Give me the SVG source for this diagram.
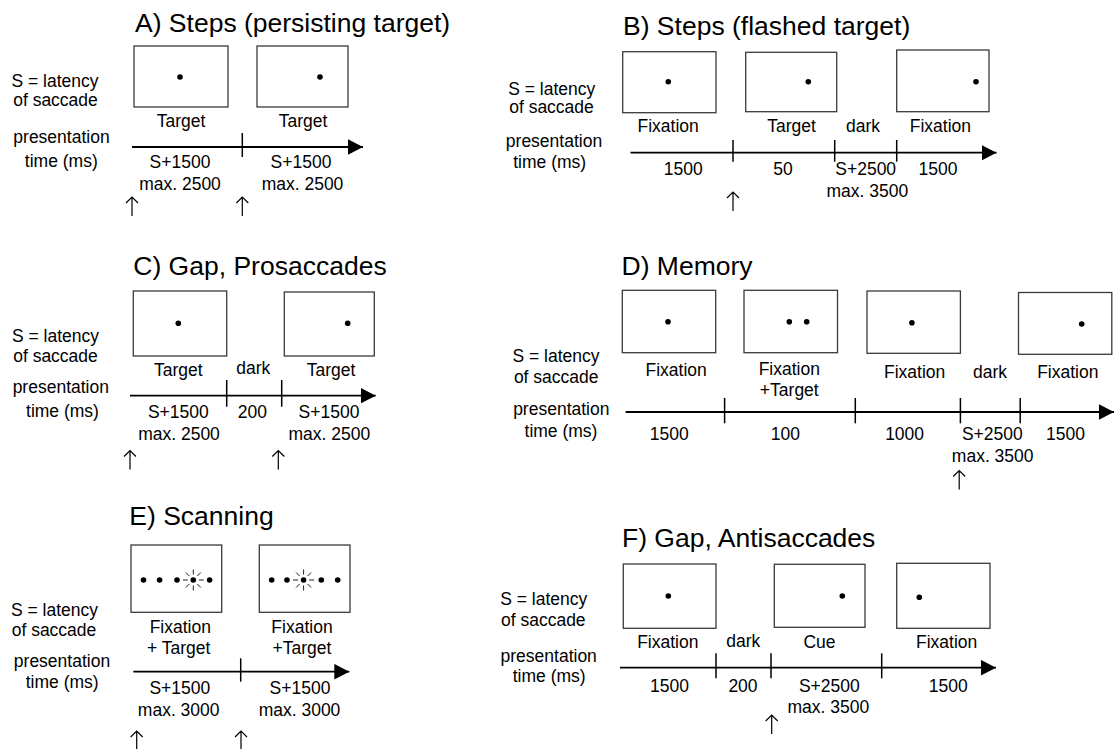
<svg xmlns="http://www.w3.org/2000/svg" width="1114" height="749" viewBox="0 0 1114 749">
<style>
.box{fill:#fff;stroke:#3a3a3a;stroke-width:1.3}
.dot{fill:#000}
text{font-family:"Liberation Sans",Arial,sans-serif;fill:#000}
.t{font-size:17.5px;text-anchor:middle}
.title{font-size:26.5px}
.axis{stroke:#000;stroke-width:1.8;fill:none}
.tick{stroke:#000;stroke-width:1.5}
.up{stroke:#000;stroke-width:1.2;fill:none}
.ray{stroke:#222;stroke-width:1}
</style>
<defs>
<marker id="ah" markerUnits="userSpaceOnUse" markerWidth="16" markerHeight="16" refX="15" refY="7.8" orient="auto">
<path d="M0,0 L15,7.8 L0,15.6 z" fill="#000"/>
</marker>
<path id="upa" class="up" d="M0,0 V19 M-6,6 L0,0 L6,6"/>
<g id="star">
<circle r="2.8" class="dot"/>
<g class="ray">
<line x1="5.5" y1="0" x2="10.5" y2="0"/>
<line x1="-5.5" y1="0" x2="-10.5" y2="0"/>
<line x1="0" y1="5.5" x2="0" y2="10.5"/>
<line x1="0" y1="-5.5" x2="0" y2="-10.5"/>
<line x1="4" y1="4" x2="7.5" y2="7.5"/>
<line x1="-4" y1="4" x2="-7.5" y2="7.5"/>
<line x1="4" y1="-4" x2="7.5" y2="-7.5"/>
<line x1="-4" y1="-4" x2="-7.5" y2="-7.5"/>
</g>
</g>
</defs>
<rect width="1114" height="749" fill="#fff"/>

<!-- Panel A -->
<g id="panelA">
<text class="title" x="135" y="32">A) Steps (persisting target)</text>
<g class="t">
<text x="55" y="87">S = latency</text>
<text x="55.5" y="106">of saccade</text>
<text x="61.5" y="143">presentation</text>
<text x="61.3" y="167">time (ms)</text>
</g>
<g id="A1"><rect class="box" x="134" y="46" width="94" height="61"/><circle class="dot" cx="180" cy="77" r="2.8"/><text class="t" x="181" y="127">Target</text></g>
<g id="A2"><rect class="box" x="257" y="46" width="91" height="61"/><circle class="dot" cx="320" cy="77" r="2.8"/><text class="t" x="303" y="127">Target</text></g>
<g class="t">
<text x="180" y="168">S+1500</text><text x="180" y="190">max. 2500</text>
<text x="301" y="168">S+1500</text><text x="302.5" y="190">max. 2500</text>
</g>
</g>

<!-- Panel B -->
<g id="panelB">
<text class="title" x="623" y="35">B) Steps (flashed target)</text>
<g class="t">
<text x="551.8" y="95">S = latency</text>
<text x="551.5" y="113.3">of saccade</text>
<text x="554" y="146.7">presentation</text>
<text x="549.7" y="168.3">time (ms)</text>
</g>
<g id="B1"><rect class="box" x="622.7" y="51.7" width="93.3" height="61"/><circle class="dot" cx="668.3" cy="81.7" r="2.8"/><text class="t" x="668.2" y="131.7">Fixation</text></g>
<g id="B2"><rect class="box" x="745.7" y="52.3" width="91" height="59.4"/><circle class="dot" cx="808.3" cy="81.7" r="2.8"/><text class="t" x="791.6" y="131.7">Target</text></g>
<text class="t" x="863" y="131.7">dark</text>
<g id="B3"><rect class="box" x="896.7" y="50" width="92.3" height="61.7"/><circle class="dot" cx="976" cy="81.7" r="2.8"/><text class="t" x="940.4" y="131.7">Fixation</text></g>
<g class="t">
<text x="683.2" y="175">1500</text>
<text x="783" y="175">50</text>
<text x="865.7" y="175">S+2500</text>
<text x="867.4" y="196.7">max. 3500</text>
<text x="938" y="175">1500</text>
</g>
</g>

<!-- Panel C -->
<g id="panelC">
<text class="title" x="133.3" y="275">C) Gap, Prosaccades</text>
<g class="t">
<text x="55.5" y="341.7">S = latency</text>
<text x="55.5" y="361.7">of saccade</text>
<text x="60.8" y="393.3">presentation</text>
<text x="62.5" y="416.7">time (ms)</text>
</g>
<g id="C1"><rect class="box" x="133.3" y="291" width="93.4" height="65"/><circle class="dot" cx="178.3" cy="323.3" r="2.8"/><text class="t" x="178.3" y="376">Target</text></g>
<text class="t" x="253.3" y="374">dark</text>
<g id="C2"><rect class="box" x="284.3" y="292" width="90" height="64"/><circle class="dot" cx="347.7" cy="323.3" r="2.8"/><text class="t" x="331" y="376">Target</text></g>
<g class="t">
<text x="178.3" y="418.3">S+1500</text><text x="179" y="440">max. 2500</text>
<text x="252.3" y="418.3">200</text>
<text x="329" y="418.3">S+1500</text><text x="329.3" y="440">max. 2500</text>
</g>
</g>

<!-- Panel D -->
<g id="panelD">
<text class="title" x="621.5" y="275">D) Memory</text>
<g class="t">
<text x="556" y="361.7">S = latency</text>
<text x="556.2" y="383.3">of saccade</text>
<text x="561.3" y="415">presentation</text>
<text x="561" y="436.7">time (ms)</text>
</g>
<g id="D1"><rect class="box" x="622.3" y="290.3" width="93.4" height="62.4"/><circle class="dot" cx="668" cy="321.7" r="2.8"/><text class="t" x="676.1" y="376">Fixation</text></g>
<g id="D2"><rect class="box" x="744" y="290.3" width="93.5" height="62.4"/><circle class="dot" cx="789.3" cy="321.7" r="2.8"/><circle class="dot" cx="806.7" cy="321.7" r="2.8"/><text class="t" x="789.3" y="375">Fixation</text><text class="t" x="789.3" y="396">+Target</text></g>
<g id="D3"><rect class="box" x="867" y="291" width="93.4" height="62.3"/><circle class="dot" cx="911.9" cy="322.7" r="2.8"/><text class="t" x="914.7" y="378.3">Fixation</text></g>
<text class="t" x="990" y="378.3">dark</text>
<g id="D4"><rect class="box" x="1018.5" y="292.5" width="93.3" height="61.8"/><circle class="dot" cx="1081.7" cy="324" r="2.8"/><text class="t" x="1067.8" y="378.3">Fixation</text></g>
<g class="t">
<text x="669.2" y="440">1500</text>
<text x="785.3" y="440">100</text>
<text x="904.6" y="440">1000</text>
<text x="992.3" y="440">S+2500</text>
<text x="992.7" y="461.7">max. 3500</text>
<text x="1065.5" y="440">1500</text>
</g>
</g>

<!-- Panel E -->
<g id="panelE">
<text class="title" x="129.3" y="525">E) Scanning</text>
<g class="t">
<text x="54.5" y="616">S = latency</text>
<text x="54" y="636">of saccade</text>
<text x="62" y="666.7">presentation</text>
<text x="62.2" y="688.3">time (ms)</text>
</g>
<g id="E1"><rect class="box" x="131" y="545" width="90.7" height="67.3"/>
<circle class="dot" cx="143.5" cy="580" r="2.8"/><circle class="dot" cx="159.6" cy="580" r="2.8"/><circle class="dot" cx="177" cy="580" r="2.8"/><use href="#star" x="193.3" y="580"/><circle class="dot" cx="209.6" cy="580" r="2.8"/>
<text class="t" x="180.3" y="632.7">Fixation</text><text class="t" x="178.7" y="654.3">+ Target</text></g>
<g id="E2"><rect class="box" x="259.3" y="545" width="90.7" height="67.3"/>
<circle class="dot" cx="271.7" cy="580" r="2.8"/><circle class="dot" cx="287" cy="580" r="2.8"/><use href="#star" x="303.6" y="580"/><circle class="dot" cx="321.3" cy="580" r="2.8"/><circle class="dot" cx="337.7" cy="580" r="2.8"/>
<text class="t" x="302" y="632.7">Fixation</text><text class="t" x="302" y="654.3">+Target</text></g>
<g class="t">
<text x="179.8" y="694">S+1500</text><text x="178.7" y="715.7">max. 3000</text>
<text x="300" y="694">S+1500</text><text x="299.5" y="715.7">max. 3000</text>
</g>
</g>

<!-- Panel F -->
<g id="panelF">
<text class="title" x="622" y="547">F) Gap, Antisaccades</text>
<g class="t">
<text x="543.7" y="605">S = latency</text>
<text x="543.3" y="626">of saccade</text>
<text x="548.7" y="661.7">presentation</text>
<text x="549.2" y="681.7">time (ms)</text>
</g>
<g id="F1"><rect class="box" x="623.3" y="564" width="92.7" height="64.3"/><circle class="dot" cx="668.3" cy="596" r="2.8"/><text class="t" x="667.8" y="648.3">Fixation</text></g>
<text class="t" x="743.3" y="647.3">dark</text>
<g id="F2"><rect class="box" x="774.3" y="564.3" width="90.7" height="63"/><circle class="dot" cx="842.3" cy="596" r="2.8"/><text class="t" x="819.5" y="648.3">Cue</text></g>
<g id="F3"><rect class="box" x="896.7" y="563.3" width="93.3" height="65"/><circle class="dot" cx="919.3" cy="597.3" r="2.8"/><text class="t" x="946.7" y="648.3">Fixation</text></g>
<g class="t">
<text x="669.5" y="691.7">1500</text>
<text x="743" y="691.7">200</text>
<text x="829.3" y="691.7">S+2500</text>
<text x="828.3" y="713.3">max. 3500</text>
<text x="948.3" y="691.7">1500</text>
</g>
</g>

<!-- Connectors: time axes, ticks, saccade arrows -->
<g id="connectors">
<line class="axis" x1="132" y1="147" x2="363" y2="147" marker-end="url(#ah)"/>
<line class="tick" x1="242.3" y1="133" x2="242.3" y2="157"/>
<use href="#upa" x="132" y="197"/><use href="#upa" x="242.3" y="197"/>

<line class="axis" x1="630.5" y1="152.7" x2="996.5" y2="152.7" marker-end="url(#ah)"/>
<line class="tick" x1="733" y1="140" x2="733" y2="161.7"/>
<line class="tick" x1="834.7" y1="140" x2="834.7" y2="161.7"/>
<line class="tick" x1="896.7" y1="140" x2="896.7" y2="161.7"/>
<use href="#upa" x="733" y="192"/>

<line class="axis" x1="130" y1="395.7" x2="375.7" y2="395.7" marker-end="url(#ah)"/>
<line class="tick" x1="226.7" y1="380" x2="226.7" y2="406.7"/>
<line class="tick" x1="281.7" y1="380" x2="281.7" y2="406.7"/>
<use href="#upa" x="130" y="450.5"/><use href="#upa" x="278.3" y="450.5"/>

<line class="axis" x1="625.6" y1="412" x2="1114" y2="412" marker-end="url(#ah)"/>
<line class="tick" x1="724.6" y1="398" x2="724.6" y2="423.3"/>
<line class="tick" x1="855.3" y1="398" x2="855.3" y2="423.3"/>
<line class="tick" x1="960.4" y1="398" x2="960.4" y2="423.3"/>
<line class="tick" x1="1020.2" y1="398" x2="1020.2" y2="423.3"/>
<use href="#upa" x="959.2" y="470.5"/>

<line class="axis" x1="133.3" y1="671.7" x2="349.3" y2="671.7" marker-end="url(#ah)"/>
<line class="tick" x1="240.7" y1="658.3" x2="240.7" y2="681.7"/>
<use href="#upa" x="136.7" y="731"/><use href="#upa" x="241" y="731"/>

<line class="axis" x1="620" y1="667.7" x2="996" y2="667.7" marker-end="url(#ah)"/>
<line class="tick" x1="716" y1="653.3" x2="716" y2="678.3"/>
<line class="tick" x1="771" y1="653.3" x2="771" y2="678.3"/>
<line class="tick" x1="881.7" y1="653.3" x2="881.7" y2="678.3"/>
<use href="#upa" x="771.7" y="715"/>
</g>
</svg>
